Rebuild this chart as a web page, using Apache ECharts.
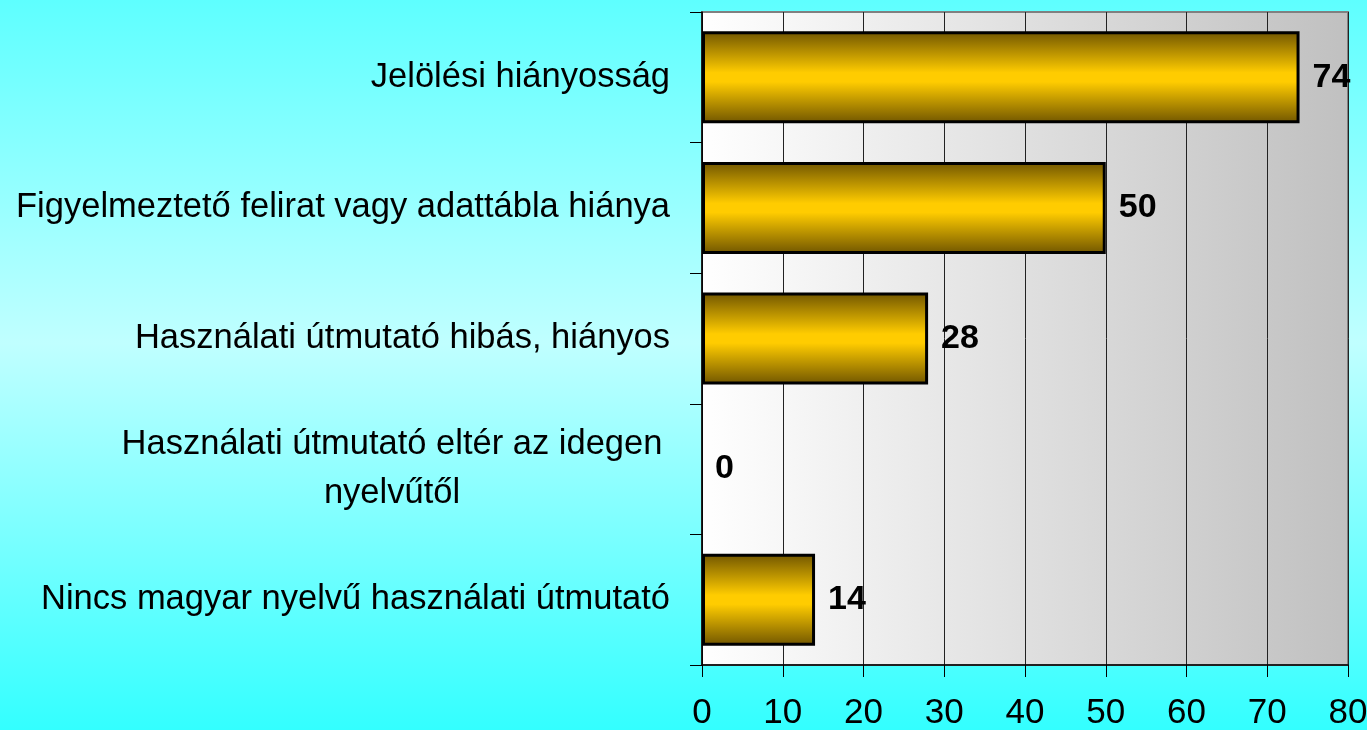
<!DOCTYPE html>
<html>
<head>
<meta charset="utf-8">
<script src="https://cdn.jsdelivr.net/npm/echarts@6/dist/echarts.min.js"></script>
<style>
  html, body { margin: 0; padding: 0; }
  #chart { width: 1367px; height: 730px; }
</style>
</head>
<body>
<div id="chart"></div>
<script>
var categories = [
    'Jelölési hiányosság',
    'Figyelmeztető felirat vagy adattábla hiánya',
    'Használati útmutató hibás, hiányos',
    'Használati útmutató eltér az idegen\nnyelvűtől',
    'Nincs magyar nyelvű használati útmutató'
];
var counts = [74, 50, 28, 0, 14];
var xTicks = [0, 80, 10];   // min, max, interval

var chart = echarts.init(document.getElementById('chart'));

var font = '"Liberation Sans", Arial, sans-serif';

// a zero bar should not leave its border on the axis
var barData = counts.map(function (v) {
    return v === 0 ? { value: v, itemStyle: { borderWidth: 0 } } : v;
});

var option = {
    backgroundColor: new echarts.graphic.LinearGradient(0, 0, 0, 1, [
        { offset: 0, color: '#5effff' },
        { offset: 0.47, color: '#c0ffff' },
        { offset: 1, color: '#33ffff' }
    ]),
    animation: false,
    grid: {
        left: 702,
        right: 19,
        top: 12,
        bottom: 65,
        outerBoundsMode: 'none',
        show: true,
        borderColor: '#808080',
        borderWidth: 2,
        backgroundColor: new echarts.graphic.LinearGradient(0, 0, 1, 0, [
            { offset: 0, color: '#ffffff' },
            { offset: 1, color: '#c0c0c0' }
        ])
    },
    xAxis: {
        type: 'value',
        min: xTicks[0],
        max: xTicks[1],
        interval: xTicks[2],
        axisLine: { show: true, lineStyle: { color: '#000', width: 1.5 } },
        axisTick: { show: true, length: 12, lineStyle: { color: '#000' } },
        splitLine: { show: true, lineStyle: { color: '#222', width: 1 } },
        axisLabel: { color: '#000', fontFamily: font, fontSize: 35, margin: 31 }
    },
    yAxis: {
        type: 'category',
        inverse: true,
        data: categories,
        axisLine: { show: true, lineStyle: { color: '#000', width: 1.5 } },
        axisTick: { show: true, length: 12, lineStyle: { color: '#000' } },
        axisLabel: {
            color: '#000',
            fontFamily: font,
            fontSize: 34.5,
            margin: 32,
            formatter: function (v) {
                // the wrapped label is centered as a block
                if (v.indexOf('\n') >= 0) {
                    return v.split('\n').map(function (s) { return '{c|' + s + '}'; }).join('\n');
                }
                return v;
            },
            rich: {
                c: { fontFamily: font, fontSize: 34.5, color: '#000', width: 556, align: 'center', lineHeight: 49 }
            }
        }
    },
    series: [{
        type: 'bar',
        data: barData,
        barWidth: 92,
        itemStyle: {
            color: new echarts.graphic.LinearGradient(0, 0, 0, 1, [
                { offset: 0, color: '#705500' },
                { offset: 0.45, color: '#ffcc00' },
                { offset: 0.55, color: '#ffcc00' },
                { offset: 1, color: '#705500' }
            ]),
            borderColor: '#000',
            borderWidth: 3
        },
        label: {
            show: true,
            position: 'right',
            distance: 13,
            color: '#000',
            fontFamily: font,
            fontWeight: 'bold',
            fontSize: 34
        }
    }]
};

chart.setOption(option);
</script>
</body>
</html>
